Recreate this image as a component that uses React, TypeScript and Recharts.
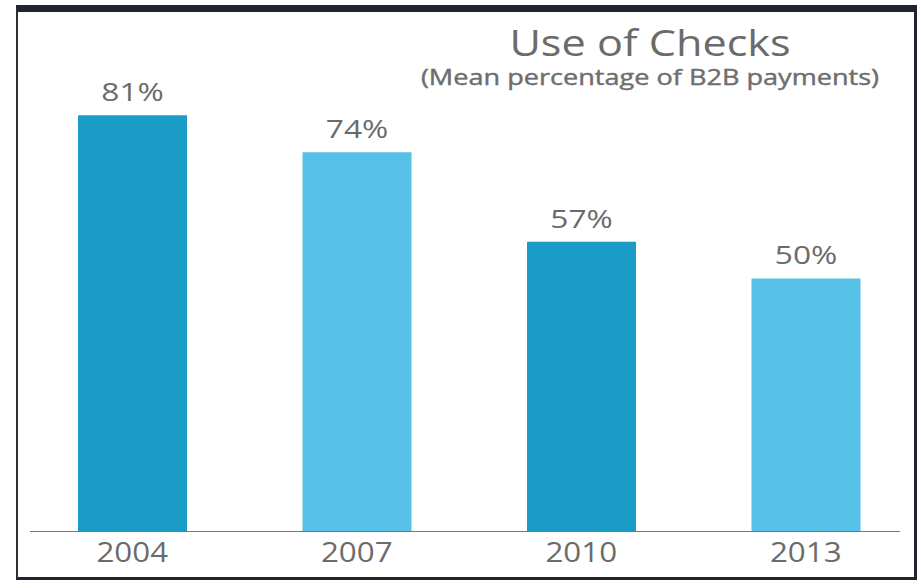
import React from 'react';
import { BarChart, Bar, XAxis, YAxis, Cell, LabelList } from 'recharts';

const years = ['2004', '2007', '2010', '2013'];
const checkShare = [81, 74, 57, 50];

const data = years.map((year, i) => ({ year, value: checkShare[i] }));

const FONT = '"Open Sans", sans-serif';
const TEXT = '#6b6b6b';
const DARK = '#1b9cc6';
const LIGHT = '#56c0e6';

// the source image is a bit stretched sideways, so text gets a horizontal scale
const YearTick = ({ x, y, payload }: any) => (
  <text
    transform={`translate(${x},${y}) scale(1.16,1)`}
    textAnchor="middle"
    dy="0.71em"
    fill={TEXT}
    fontSize={27}
    fontFamily={FONT}
  >
    {payload.value}
  </text>
);

const PctLabel = ({ x, y, width, value }: any) => (
  <text
    transform={`translate(${x + width / 2},${y - 14}) scale(1.22,1)`}
    textAnchor="middle"
    fill={TEXT}
    fontSize={26}
    fontFamily={FONT}
  >
    {`${value}%`}
  </text>
);

export default function App() {
  return (
    <div style={{ position: 'absolute', left: 0, top: 0, width: 918, height: 580, background: '#fff', fontFamily: FONT }}>
      <div
        style={{
          position: 'absolute',
          left: 16,
          top: 5,
          width: 896,
          height: 565,
          borderTop: '7px solid #1f2430',
          borderLeft: '2px solid #2a2f3a',
          borderRight: '3px solid #1f2430',
          borderBottom: '5px solid #1f2430',
        }}
      />
      <div style={{ position: 'absolute', left: 400, width: 500, top: 21, textAlign: 'center', color: TEXT }}>
        <div style={{ fontSize: 36, lineHeight: '44px', transform: 'scaleX(1.2)' }}>Use of Checks</div>
        <div
          style={{
            fontSize: 21,
            lineHeight: '24px',
            color: '#6e6e6e',
            WebkitTextStroke: '0.4px #6e6e6e',
            transform: 'scaleX(1.29)',
          }}
        >
          (Mean percentage of B2B payments)
        </div>
      </div>
      <div style={{ position: 'absolute', left: 30, top: 531, width: 870, height: 1, background: '#777' }} />
      <div style={{ position: 'absolute', left: 0, top: 0 }}>
        <BarChart width={918} height={580} data={data} margin={{ top: 68, right: 0, bottom: 9, left: 20 }}>
          <YAxis hide domain={[2, 90]} allowDataOverflow />
          <XAxis
            dataKey="year"
            height={40}
            axisLine={false}
            tickLine={false}
            tickMargin={6}
            tick={<YearTick />}
          />
          <Bar dataKey="value" barSize={109} isAnimationActive={false}>
            {data.map((d, i) => (
              <Cell key={d.year} fill={i % 2 === 0 ? DARK : LIGHT} />
            ))}
            <LabelList dataKey="value" content={<PctLabel />} />
          </Bar>
        </BarChart>
      </div>
    </div>
  );
}
